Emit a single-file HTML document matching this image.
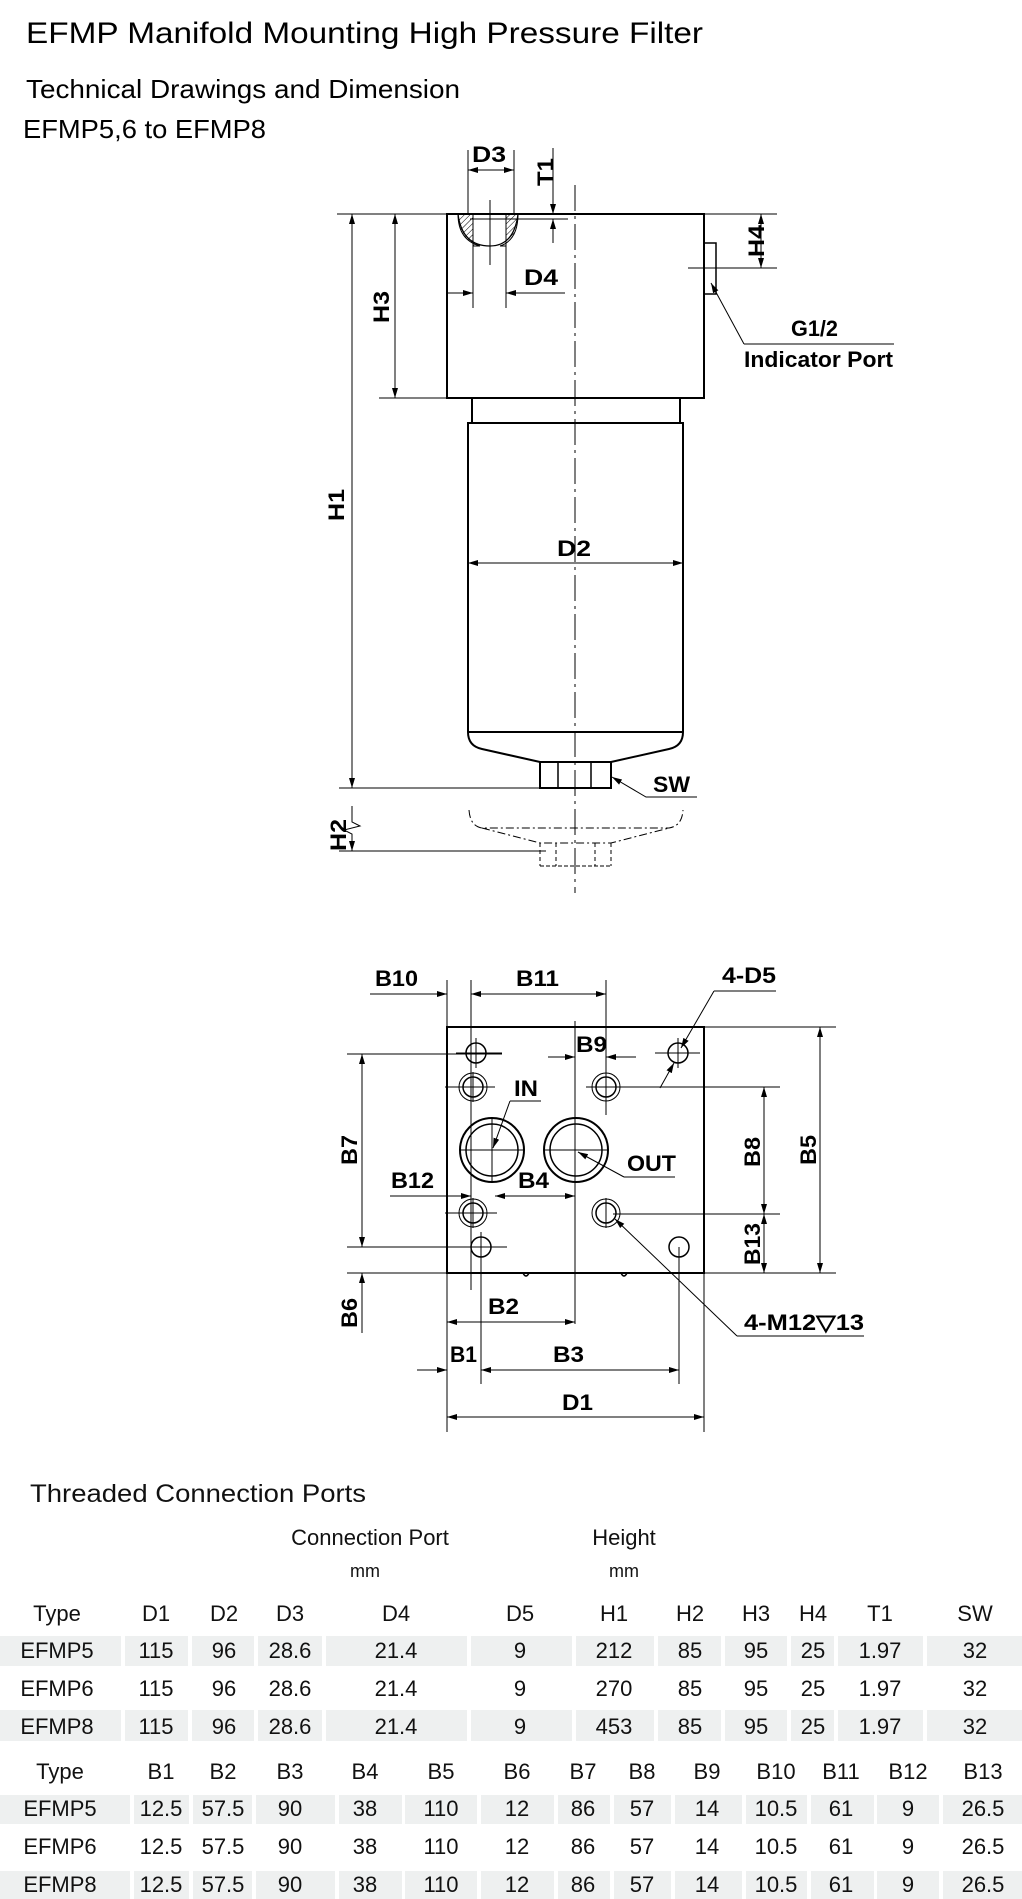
<!DOCTYPE html>
<html><head><meta charset="utf-8"><style>
html,body{margin:0;padding:0;background:#fff;}
svg{display:block;}
.l{font-family:"Liberation Sans",Arial,sans-serif;font-weight:bold;font-size:22px;fill:#000;}
.t{font-family:"Liberation Sans",Arial,sans-serif;font-size:22px;fill:#111;}
</style></head><body>
<svg width="1022" height="1899" viewBox="0 0 1022 1899" xmlns="http://www.w3.org/2000/svg">
<defs>
<marker id="a" viewBox="0 0 10 6" refX="10" refY="3" markerWidth="10" markerHeight="6" markerUnits="userSpaceOnUse" orient="auto-start-reverse"><path d="M0 0L10 3L0 6Z" fill="#000"/></marker>
<pattern id="h" width="4" height="4" patternUnits="userSpaceOnUse" patternTransform="rotate(45)"><line x1="0" y1="0" x2="0" y2="4" stroke="#000" stroke-width="1"/></pattern>
</defs>
<g font-family="Liberation Sans, Arial, sans-serif" fill="#000">
<text x="26" y="43" font-size="30" textLength="677" lengthAdjust="spacingAndGlyphs">EFMP Manifold Mounting High Pressure Filter</text>
<text x="26" y="98" font-size="26" textLength="434" lengthAdjust="spacingAndGlyphs">Technical Drawings and Dimension</text>
<text x="23" y="138" font-size="26" textLength="243" lengthAdjust="spacingAndGlyphs">EFMP5,6 to EFMP8</text>
</g>

<!-- Drawing 1 -->
<g stroke="#000" fill="none" stroke-width="2">
<rect x="447" y="214" width="257" height="184"/>
<rect x="472" y="398" width="208" height="25"/>
<path d="M468 423 L468 732 Q468 746 482 749 L540 762 L611 762 L669 749 Q683 746 683 732 L683 423 Z"/>
<line x1="468" y1="732" x2="683" y2="732"/>
<rect x="540" y="762" width="71" height="26"/>
<line x1="558" y1="762" x2="558" y2="788" stroke-width="1.5"/>
<line x1="591" y1="762" x2="591" y2="788" stroke-width="1.5"/>
<rect x="704" y="243" width="12" height="51" stroke-width="1.5"/>
</g>
<path d="M458 214 Q458 240 480 246 L473 246 L473 214 Z M518 214 Q518 240 500 246 L506 246 L506 214 Z" fill="url(#h)" stroke="#000" stroke-width="1"/>
<path d="M458 214 Q462 246 490 246 Q514 246 518 214" fill="none" stroke="#000" stroke-width="1.2"/>
<g stroke="#000" stroke-width="1" fill="none">
<line x1="575" y1="185" x2="575" y2="893" stroke-dasharray="26,5,3,5"/>
<line x1="337" y1="214" x2="447" y2="214"/>
<line x1="339" y1="788" x2="540" y2="788"/>
<line x1="352" y1="214" x2="352" y2="788" marker-start="url(#a)" marker-end="url(#a)"/>
<line x1="379" y1="398" x2="447" y2="398"/>
<line x1="395" y1="214" x2="395" y2="398" marker-start="url(#a)" marker-end="url(#a)"/>
<line x1="468" y1="150" x2="468" y2="214"/>
<line x1="514" y1="150" x2="514" y2="214"/>
<line x1="468" y1="170" x2="514" y2="170" marker-start="url(#a)" marker-end="url(#a)"/>
<line x1="490" y1="200" x2="490" y2="265"/>
<line x1="553" y1="148" x2="553" y2="214" marker-end="url(#a)"/>
<line x1="553" y1="243" x2="553" y2="219" marker-end="url(#a)"/>
<line x1="470" y1="219" x2="568" y2="219"/>
<line x1="473" y1="214" x2="473" y2="308"/>
<line x1="506" y1="214" x2="506" y2="308"/>
<line x1="447" y1="293" x2="473" y2="293" marker-end="url(#a)"/>
<line x1="565" y1="293" x2="506" y2="293" marker-end="url(#a)"/>
<line x1="704" y1="214" x2="777" y2="214"/>
<line x1="688" y1="268" x2="777" y2="268"/>
<line x1="761" y1="214" x2="761" y2="268" marker-start="url(#a)" marker-end="url(#a)"/>
<path d="M744 344 L711 283" marker-end="url(#a)"/>
<line x1="744" y1="344" x2="894" y2="344"/>
<line x1="468" y1="563" x2="683" y2="563" marker-start="url(#a)" marker-end="url(#a)"/>
<path d="M697 797 L646 797 L612 777" marker-end="url(#a)"/>
<line x1="339" y1="851" x2="546" y2="851"/>
<path d="M352 806 L352 822 L360 826 L344 830 L352 834 L352 851" marker-end="url(#a)"/>
<path d="M469 810 Q470 826 482 828 L669 828 Q682 826 683 810" stroke-dasharray="8,3,2,3"/>
<path d="M482 828 L540 843 L611 843 L669 828" stroke-dasharray="8,3,2,3"/>
<path d="M540 843 L540 866 M611 843 L611 866 M556 843 L556 866 M595 843 L595 866" stroke-dasharray="4,3"/>
<line x1="540" y1="866" x2="611" y2="866" stroke-dasharray="4,2"/>
</g>
<g class="l">
<text x="472" y="162" textLength="34" lengthAdjust="spacingAndGlyphs">D3</text>
<text x="524" y="285" textLength="34" lengthAdjust="spacingAndGlyphs">D4</text>
<text x="557" y="556" textLength="34" lengthAdjust="spacingAndGlyphs">D2</text>
<text x="653" y="792" textLength="37" lengthAdjust="spacingAndGlyphs">SW</text>
<text x="791" y="336" textLength="47" lengthAdjust="spacingAndGlyphs">G1/2</text>
<text x="744" y="367" textLength="149" lengthAdjust="spacingAndGlyphs">Indicator Port</text>
<text transform="translate(553,172) rotate(-90)" x="-14" y="0" textLength="28" lengthAdjust="spacingAndGlyphs">T1</text>
<text transform="translate(764,241) rotate(-90)" x="-16" y="0" textLength="32" lengthAdjust="spacingAndGlyphs">H4</text>
<text transform="translate(389,307) rotate(-90)" x="-16" y="0" textLength="32" lengthAdjust="spacingAndGlyphs">H3</text>
<text transform="translate(344,505) rotate(-90)" x="-16" y="0" textLength="32" lengthAdjust="spacingAndGlyphs">H1</text>
<text transform="translate(346,835) rotate(-90)" x="-16" y="0" textLength="32" lengthAdjust="spacingAndGlyphs">H2</text>
</g>

<!-- Drawing 2 -->
<g stroke="#000" fill="none">
<rect x="447" y="1027" width="257" height="246" stroke-width="2"/>
<path d="M523 1273 q3 6 6 0 M621 1273 q3 6 6 0" stroke-width="1.5"/>
<g stroke-width="1.5">
<circle cx="476" cy="1053" r="10"/>
<circle cx="473" cy="1087" r="10"/><circle cx="473" cy="1087" r="14" stroke-width="1"/>
<circle cx="606" cy="1087" r="10"/><circle cx="606" cy="1087" r="14" stroke-width="1"/>
<circle cx="678" cy="1053" r="10"/>
<circle cx="473" cy="1213" r="10"/><circle cx="473" cy="1213" r="14" stroke-width="1"/>
<circle cx="606" cy="1213" r="10"/><circle cx="606" cy="1213" r="14" stroke-width="1"/>
<circle cx="481" cy="1247" r="10"/>
<circle cx="679" cy="1247" r="10"/>
<circle cx="492" cy="1150" r="32" stroke-width="2"/><circle cx="492" cy="1150" r="26"/>
<circle cx="576" cy="1150" r="32" stroke-width="2"/><circle cx="576" cy="1150" r="26"/>
</g>
<g stroke-width="1">
<line x1="456" y1="1053" x2="502" y2="1053"/><line x1="476" y1="1038" x2="476" y2="1068"/>
<line x1="445" y1="1087" x2="495" y2="1087"/><line x1="473" y1="1072" x2="473" y2="1102"/>
<line x1="586" y1="1087" x2="626" y2="1087"/>
<line x1="655" y1="1053" x2="700" y2="1053"/><line x1="678" y1="1038" x2="678" y2="1068"/>
<line x1="445" y1="1213" x2="497" y2="1213"/><line x1="473" y1="1198" x2="473" y2="1228"/>
<line x1="606" y1="1198" x2="606" y2="1228"/>
<line x1="466" y1="1247" x2="507" y2="1247"/><line x1="481" y1="1232" x2="481" y2="1384"/>
<line x1="460" y1="1150" x2="524" y2="1150"/><line x1="492" y1="1118" x2="492" y2="1182"/>
<line x1="544" y1="1150" x2="608" y2="1150"/>
<line x1="679" y1="1247" x2="679" y2="1384"/>
<line x1="704" y1="1027" x2="836" y2="1027"/><line x1="704" y1="1273" x2="836" y2="1273"/>
<line x1="820" y1="1027" x2="820" y2="1273" marker-start="url(#a)" marker-end="url(#a)"/>
<line x1="626" y1="1087" x2="780" y2="1087"/><line x1="613" y1="1214" x2="780" y2="1214"/>
<line x1="764" y1="1087" x2="764" y2="1214" marker-start="url(#a)" marker-end="url(#a)"/>
<line x1="764" y1="1214" x2="764" y2="1273" marker-start="url(#a)" marker-end="url(#a)"/>
<line x1="347" y1="1054" x2="502" y2="1054"/><line x1="347" y1="1247" x2="466" y2="1247"/>
<line x1="362" y1="1054" x2="362" y2="1247" marker-start="url(#a)" marker-end="url(#a)"/>
<line x1="347" y1="1273" x2="447" y2="1273"/>
<line x1="362" y1="1333" x2="362" y2="1273" marker-end="url(#a)"/>
<line x1="447" y1="980" x2="447" y2="1027"/>
<line x1="471" y1="980" x2="471" y2="1290"/>
<line x1="606" y1="980" x2="606" y2="1115"/>
<line x1="575" y1="1021" x2="575" y2="1324"/>
<line x1="370" y1="994" x2="447" y2="994" marker-end="url(#a)"/>
<line x1="471" y1="994" x2="606" y2="994" marker-start="url(#a)" marker-end="url(#a)"/>
<line x1="548" y1="1057" x2="575" y2="1057" marker-end="url(#a)"/>
<line x1="636" y1="1057" x2="606" y2="1057" marker-end="url(#a)"/>
<line x1="714" y1="991" x2="776" y2="991"/>
<line x1="714" y1="991" x2="681" y2="1048" marker-end="url(#a)"/>
<line x1="660" y1="1088" x2="674" y2="1063" marker-end="url(#a)"/>
<line x1="510" y1="1101" x2="541" y2="1101"/>
<line x1="510" y1="1101" x2="493" y2="1148" marker-end="url(#a)"/>
<line x1="624" y1="1177" x2="675" y2="1177"/>
<line x1="624" y1="1177" x2="578" y2="1152" marker-end="url(#a)"/>
<line x1="390" y1="1196" x2="471" y2="1196" marker-end="url(#a)"/>
<line x1="495" y1="1196" x2="575" y2="1196" marker-start="url(#a)" marker-end="url(#a)"/>
<line x1="447" y1="1273" x2="447" y2="1432"/><line x1="704" y1="1273" x2="704" y2="1432"/>
<line x1="447" y1="1322" x2="575" y2="1322" marker-start="url(#a)" marker-end="url(#a)"/>
<line x1="417" y1="1370" x2="447" y2="1370" marker-end="url(#a)"/>
<line x1="481" y1="1370" x2="679" y2="1370" marker-start="url(#a)" marker-end="url(#a)"/>
<line x1="447" y1="1417" x2="704" y2="1417" marker-start="url(#a)" marker-end="url(#a)"/>
<line x1="737" y1="1336" x2="864" y2="1336"/>
<line x1="737" y1="1336" x2="615" y2="1219" marker-end="url(#a)"/>
</g>
</g>
<g class="l">
<text x="375" y="986" textLength="43" lengthAdjust="spacingAndGlyphs">B10</text>
<text x="516" y="986" textLength="43" lengthAdjust="spacingAndGlyphs">B11</text>
<text x="722" y="983" textLength="54" lengthAdjust="spacingAndGlyphs">4-D5</text>
<text x="576" y="1052" textLength="31" lengthAdjust="spacingAndGlyphs">B9</text>
<text x="514" y="1096" textLength="24" lengthAdjust="spacingAndGlyphs">IN</text>
<text x="627" y="1171" textLength="49" lengthAdjust="spacingAndGlyphs">OUT</text>
<text x="391" y="1188" textLength="43" lengthAdjust="spacingAndGlyphs">B12</text>
<text x="518" y="1188" textLength="31" lengthAdjust="spacingAndGlyphs">B4</text>
<text x="488" y="1314" textLength="31" lengthAdjust="spacingAndGlyphs">B2</text>
<text x="450" y="1362" textLength="27" lengthAdjust="spacingAndGlyphs">B1</text>
<text x="553" y="1362" textLength="31" lengthAdjust="spacingAndGlyphs">B3</text>
<text x="562" y="1410" textLength="31" lengthAdjust="spacingAndGlyphs">D1</text>
<text x="744" y="1330" textLength="120" lengthAdjust="spacingAndGlyphs">4-M12▽13</text>
<text transform="translate(357,1150) rotate(-90)" x="-15" y="0" textLength="30" lengthAdjust="spacingAndGlyphs">B7</text>
<text transform="translate(357,1313) rotate(-90)" x="-15" y="0" textLength="30" lengthAdjust="spacingAndGlyphs">B6</text>
<text transform="translate(760,1152) rotate(-90)" x="-15" y="0" textLength="30" lengthAdjust="spacingAndGlyphs">B8</text>
<text transform="translate(760,1244) rotate(-90)" x="-21" y="0" textLength="42" lengthAdjust="spacingAndGlyphs">B13</text>
<text transform="translate(816,1150) rotate(-90)" x="-15" y="0" textLength="30" lengthAdjust="spacingAndGlyphs">B5</text>
</g>

<!-- Tables -->
<text x="30" y="1502" font-family="Liberation Sans, Arial, sans-serif" font-size="25" fill="#111" textLength="336" lengthAdjust="spacingAndGlyphs">Threaded Connection Ports</text>
<g class="t" text-anchor="middle">
<text x="370" y="1545">Connection Port</text>
<text x="365" y="1577" font-size="18">mm</text>
<text x="624" y="1545">Height</text>
<text x="624" y="1577" font-size="18">mm</text>
</g>
<g fill="#eef0f0">
<rect x="0" y="1636" width="121" height="30"/><rect x="125" y="1636" width="63" height="30"/><rect x="192" y="1636" width="62" height="30"/><rect x="258" y="1636" width="64" height="30"/><rect x="326" y="1636" width="141" height="30"/><rect x="471" y="1636" width="101" height="30"/><rect x="576" y="1636" width="78" height="30"/><rect x="658" y="1636" width="63" height="30"/><rect x="725" y="1636" width="62" height="30"/><rect x="791" y="1636" width="43" height="30"/><rect x="838" y="1636" width="85" height="30"/><rect x="927" y="1636" width="95" height="30"/>
<rect x="0" y="1710" width="121" height="31"/><rect x="125" y="1710" width="63" height="31"/><rect x="192" y="1710" width="62" height="31"/><rect x="258" y="1710" width="64" height="31"/><rect x="326" y="1710" width="141" height="31"/><rect x="471" y="1710" width="101" height="31"/><rect x="576" y="1710" width="78" height="31"/><rect x="658" y="1710" width="63" height="31"/><rect x="725" y="1710" width="62" height="31"/><rect x="791" y="1710" width="43" height="31"/><rect x="838" y="1710" width="85" height="31"/><rect x="927" y="1710" width="95" height="31"/>
<rect x="0" y="1795" width="130" height="29"/><rect x="134" y="1795" width="55" height="29"/><rect x="193" y="1795" width="59" height="29"/><rect x="256" y="1795" width="79" height="29"/><rect x="339" y="1795" width="63" height="29"/><rect x="405" y="1795" width="72" height="29"/><rect x="481" y="1795" width="73" height="29"/><rect x="558" y="1795" width="52" height="29"/><rect x="614" y="1795" width="57" height="29"/><rect x="675" y="1795" width="67" height="29"/><rect x="746" y="1795" width="61" height="29"/><rect x="811" y="1795" width="63" height="29"/><rect x="877" y="1795" width="62" height="29"/><rect x="943" y="1795" width="79" height="29"/>
<rect x="0" y="1871" width="130" height="28"/><rect x="134" y="1871" width="55" height="28"/><rect x="193" y="1871" width="59" height="28"/><rect x="256" y="1871" width="79" height="28"/><rect x="339" y="1871" width="63" height="28"/><rect x="405" y="1871" width="72" height="28"/><rect x="481" y="1871" width="73" height="28"/><rect x="558" y="1871" width="52" height="28"/><rect x="614" y="1871" width="57" height="28"/><rect x="675" y="1871" width="67" height="28"/><rect x="746" y="1871" width="61" height="28"/><rect x="811" y="1871" width="63" height="28"/><rect x="877" y="1871" width="62" height="28"/><rect x="943" y="1871" width="79" height="28"/>
</g>
<g class="t" text-anchor="middle">
<g transform="translate(0,1621)"><text x="57">Type</text><text x="156">D1</text><text x="224">D2</text><text x="290">D3</text><text x="396">D4</text><text x="520">D5</text><text x="614">H1</text><text x="690">H2</text><text x="756">H3</text><text x="813">H4</text><text x="880">T1</text><text x="975">SW</text></g>
<g transform="translate(0,1658)"><text x="57">EFMP5</text><text x="156">115</text><text x="224">96</text><text x="290">28.6</text><text x="396">21.4</text><text x="520">9</text><text x="614">212</text><text x="690">85</text><text x="756">95</text><text x="813">25</text><text x="880">1.97</text><text x="975">32</text></g>
<g transform="translate(0,1696)"><text x="57">EFMP6</text><text x="156">115</text><text x="224">96</text><text x="290">28.6</text><text x="396">21.4</text><text x="520">9</text><text x="614">270</text><text x="690">85</text><text x="756">95</text><text x="813">25</text><text x="880">1.97</text><text x="975">32</text></g>
<g transform="translate(0,1734)"><text x="57">EFMP8</text><text x="156">115</text><text x="224">96</text><text x="290">28.6</text><text x="396">21.4</text><text x="520">9</text><text x="614">453</text><text x="690">85</text><text x="756">95</text><text x="813">25</text><text x="880">1.97</text><text x="975">32</text></g>
<g transform="translate(0,1779)"><text x="60">Type</text><text x="161">B1</text><text x="223">B2</text><text x="290">B3</text><text x="365">B4</text><text x="441">B5</text><text x="517">B6</text><text x="583">B7</text><text x="642">B8</text><text x="707">B9</text><text x="776">B10</text><text x="841">B11</text><text x="908">B12</text><text x="983">B13</text></g>
<g transform="translate(0,1816)"><text x="60">EFMP5</text><text x="161">12.5</text><text x="223">57.5</text><text x="290">90</text><text x="365">38</text><text x="441">110</text><text x="517">12</text><text x="583">86</text><text x="642">57</text><text x="707">14</text><text x="776">10.5</text><text x="841">61</text><text x="908">9</text><text x="983">26.5</text></g>
<g transform="translate(0,1854)"><text x="60">EFMP6</text><text x="161">12.5</text><text x="223">57.5</text><text x="290">90</text><text x="365">38</text><text x="441">110</text><text x="517">12</text><text x="583">86</text><text x="642">57</text><text x="707">14</text><text x="776">10.5</text><text x="841">61</text><text x="908">9</text><text x="983">26.5</text></g>
<g transform="translate(0,1892)"><text x="60">EFMP8</text><text x="161">12.5</text><text x="223">57.5</text><text x="290">90</text><text x="365">38</text><text x="441">110</text><text x="517">12</text><text x="583">86</text><text x="642">57</text><text x="707">14</text><text x="776">10.5</text><text x="841">61</text><text x="908">9</text><text x="983">26.5</text></g>
</g>
</svg>
</body></html>
